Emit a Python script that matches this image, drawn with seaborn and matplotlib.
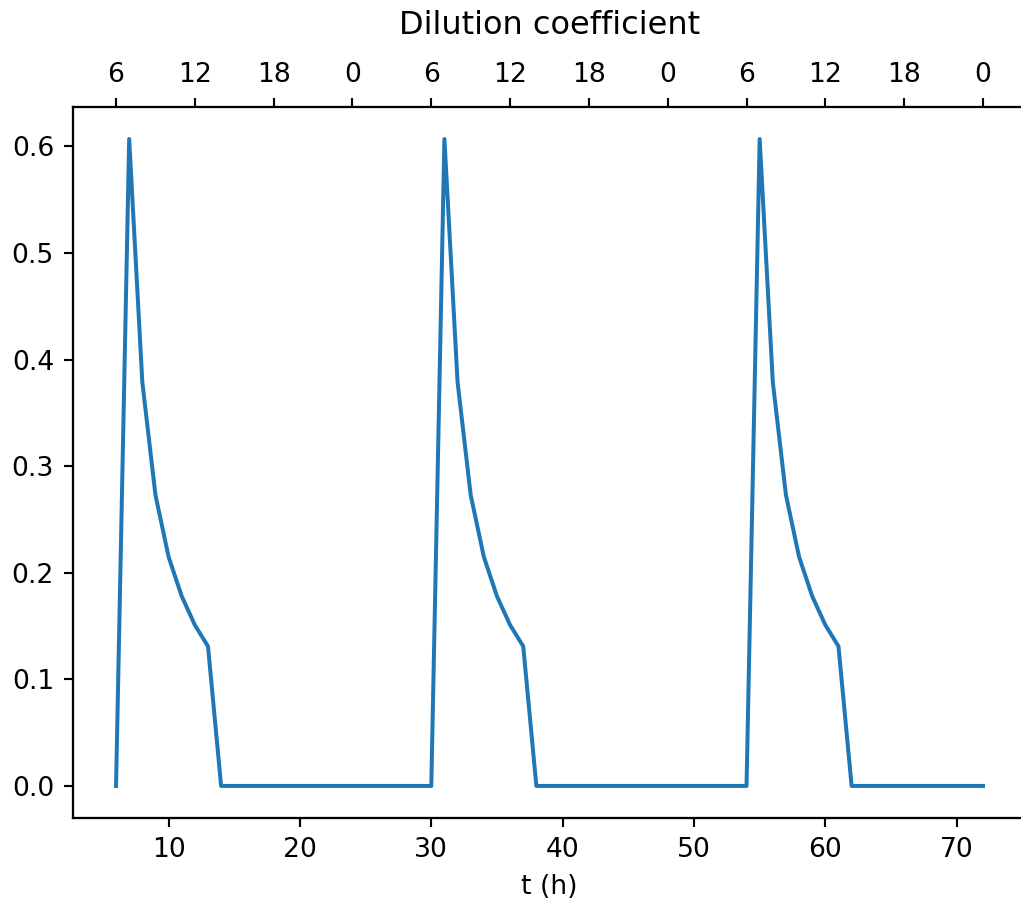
import matplotlib
matplotlib.use("Agg")
import matplotlib.pyplot as plt
import seaborn as sns
import pandas as pd

# Data
t_hours = list(range(6, 73))
dilution = [
    0.0, 0.607, 0.379, 0.273, 0.215, 0.178, 0.151, 0.131,   # t = 6..13
    0.0, 0.0, 0.0, 0.0, 0.0, 0.0, 0.0, 0.0,                  # t = 14..21
    0.0, 0.0, 0.0, 0.0, 0.0, 0.0, 0.0, 0.0,                  # t = 22..29
    0.0, 0.607, 0.379, 0.273, 0.215, 0.178, 0.151, 0.131,   # t = 30..37
    0.0, 0.0, 0.0, 0.0, 0.0, 0.0, 0.0, 0.0,                  # t = 38..45
    0.0, 0.0, 0.0, 0.0, 0.0, 0.0, 0.0, 0.0,                  # t = 46..53
    0.0, 0.607, 0.379, 0.273, 0.215, 0.178, 0.151, 0.131,   # t = 54..61
    0.0, 0.0, 0.0, 0.0, 0.0, 0.0, 0.0, 0.0,                  # t = 62..69
    0.0, 0.0, 0.0,                                           # t = 70..72
]
top_tick_pos = [6, 12, 18, 24, 30, 36, 42, 48, 54, 60, 66, 72]
top_tick_labels = ["6", "12", "18", "0", "6", "12", "18", "0", "6", "12", "18", "0"]

df = pd.DataFrame({"t": t_hours, "D": dilution})

DPI = 192
fig = plt.figure(figsize=(1021 / DPI, 901 / DPI), dpi=DPI)
ax = fig.add_axes([0.0712, 0.0918, 0.934, 0.7898])
sns.lineplot(data=df, x="t", y="D", ax=ax, color="#1f77b4", linewidth=1.5)
ax.set_xlabel("t (h)")
ax.set_ylabel("")

ax2 = ax.twiny()
ax2.set_xlim(ax.get_xlim())
ax2.set_xticks(top_tick_pos)
ax2.set_xticklabels(top_tick_labels)
ax2.set_title("Dilution coefficient", fontsize=12, pad=10.5)

# the reference image is cropped just before the right spine
ax.spines["right"].set_visible(False)
ax2.spines["right"].set_visible(False)

fig.savefig("out.png", dpi=DPI)
